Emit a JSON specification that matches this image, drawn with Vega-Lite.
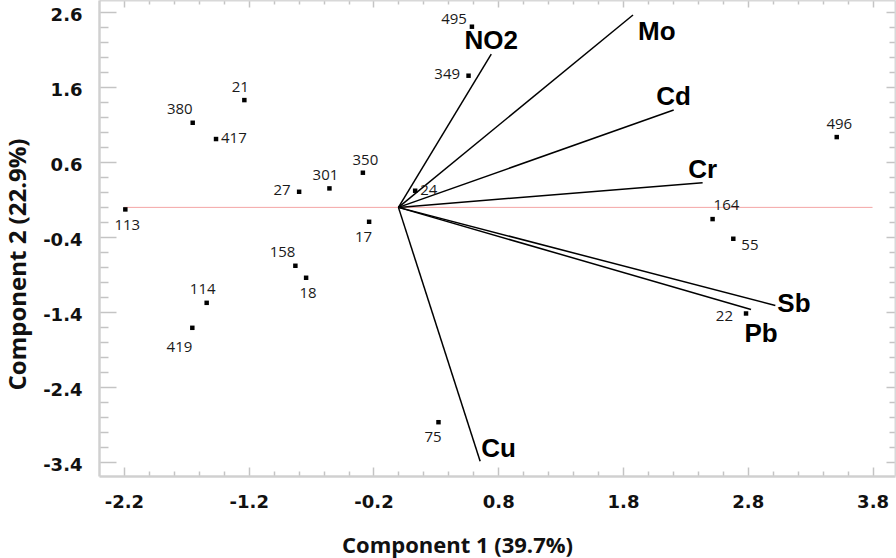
{
  "$schema": "https://vega.github.io/schema/vega-lite/v6.json",
  "width": 796,
  "height": 476,
  "autosize": {"type": "none"},
  "padding": {"left": 99, "top": 0, "right": 1, "bottom": 82},
  "background": "white",
  "config": {"view": {"stroke": null}},
  "datasets": {
    "scores": [
      {"id": "21", "pc1": -1.235, "pc2": 1.43},
      {"id": "380", "pc1": -1.649, "pc2": 1.128},
      {"id": "417", "pc1": -1.462, "pc2": 0.911},
      {"id": "27", "pc1": -0.796, "pc2": 0.208},
      {"id": "495", "pc1": 0.589, "pc2": 2.408},
      {"id": "349", "pc1": 0.562, "pc2": 1.755},
      {"id": "350", "pc1": -0.285, "pc2": 0.462},
      {"id": "301", "pc1": -0.553, "pc2": 0.253},
      {"id": "24", "pc1": 0.134, "pc2": 0.222},
      {"id": "496", "pc1": 3.513, "pc2": 0.937},
      {"id": "113", "pc1": -2.189, "pc2": -0.027},
      {"id": "158", "pc1": -0.826, "pc2": -0.778},
      {"id": "114", "pc1": -1.537, "pc2": -1.272},
      {"id": "419", "pc1": -1.652, "pc2": -1.605},
      {"id": "17", "pc1": -0.235, "pc2": -0.192},
      {"id": "18", "pc1": -0.74, "pc2": -0.938},
      {"id": "164", "pc1": 2.518, "pc2": -0.156},
      {"id": "55", "pc1": 2.684, "pc2": -0.418},
      {"id": "22", "pc1": 2.786, "pc2": -1.414},
      {"id": "75", "pc1": 0.321, "pc2": -2.863}
    ],
    "loadings": [
      {"var": "NO2", "pc1": 0.744, "pc2": 2.044},
      {"var": "Mo", "pc1": 1.88, "pc2": 2.564},
      {"var": "Cd", "pc1": 2.206, "pc2": 1.297},
      {"var": "Cr", "pc1": 2.438, "pc2": 0.328},
      {"var": "Sb", "pc1": 3.021, "pc2": -1.307},
      {"var": "Pb", "pc1": 2.826, "pc2": -1.36},
      {"var": "Cu", "pc1": 0.655, "pc2": -3.383}
    ],
    "baseline": [
      {"from": -2.2, "to": 3.8}
    ]
  },
  "resolve": {"axis": {"x": "independent", "y": "independent"}},
  "layer": [
    {
      "data": {"name": "baseline"},
      "mark": {"type": "rule", "color": "#f4a6a6", "strokeWidth": 1},
      "encoding": {
        "x": {"field": "from", "type": "quantitative",
          "scale": {"domain": [-2.4, 3.98], "nice": false, "zero": false},
          "axis": {
            "orient": "bottom",
            "values": [-2.2, -2, -1.8, -1.6, -1.4, -1.2, -1, -0.8, -0.6, -0.4, -0.2, 0, 0.2, 0.4, 0.6, 0.8, 1, 1.2, 1.4, 1.6, 1.8, 2, 2.2, 2.4, 2.6, 2.8, 3, 3.2, 3.4, 3.6, 3.8],
            "labelExpr": "indexof([-2.2, -1.2, -0.2, 0.8, 1.8, 2.8, 3.8], datum.value) >= 0 ? toString(datum.value) : ''",
            "tickSize": {"condition": {"test": "indexof([-2.2, -1.2, -0.2, 0.8, 1.8, 2.8, 3.8], datum.value) >= 0", "value": -9}, "value": -5},
            "tickWidth": 1.5,
            "tickColor": "#c4c4c4",
            "labelPadding": 26,
            "labelFont": "DejaVu Sans",
            "labelFontWeight": "bold",
            "labelFontSize": 18,
            "labelColor": "#111111",
            "labelFlush": false,
            "labelOverlap": false,
            "labelBound": false,
            "domainColor": "#d0d0d0",
            "domainWidth": 2.5,
            "grid": false,
            "title": "Component 1 (39.7%)",
            "titleFont": "Open Sans",
            "titleFontWeight": "bold",
            "titleFontSize": 22,
            "titleColor": "#111111",
            "titleX": 358,
            "titleY": 76,
            "titleAlign": "center",
            "titleBaseline": "alphabetic"
          }
        },
        "x2": {"field": "to"},
        "y": {"datum": 0, "type": "quantitative",
          "scale": {"domain": [-3.58, 2.764], "nice": false, "zero": false},
          "axis": {
            "orient": "left",
            "values": [-3.4, -3.2, -3, -2.8, -2.6, -2.4, -2.2, -2, -1.8, -1.6, -1.4, -1.2, -1, -0.8, -0.6, -0.4, -0.2, 0, 0.2, 0.4, 0.6, 0.8, 1, 1.2, 1.4, 1.6, 1.8, 2, 2.2, 2.4, 2.6],
            "labelExpr": "indexof([-3.4, -2.4, -1.4, -0.4, 0.6, 1.6, 2.6], datum.value) >= 0 ? toString(datum.value) : ''",
            "tickSize": {"condition": {"test": "indexof([-3.4, -2.4, -1.4, -0.4, 0.6, 1.6, 2.6], datum.value) >= 0", "value": -17}, "value": -9},
            "tickWidth": 1.5,
            "tickColor": "#c4c4c4",
            "labelPadding": 34,
            "labelOffset": 3.5,
            "labelFont": "DejaVu Sans",
            "labelFontWeight": "bold",
            "labelFontSize": 18,
            "labelColor": "#111111",
            "labelFlush": false,
            "labelOverlap": false,
            "labelBound": false,
            "domainColor": "#d0d0d0",
            "domainWidth": 2.5,
            "grid": false,
            "title": "Component 2 (22.9%)",
            "titleFont": "Open Sans",
            "titleFontWeight": "bold",
            "titleFontSize": 24,
            "titleColor": "#111111",
            "titleX": -74,
            "titleY": 264,
            "titleAngle": -90,
            "titleAlign": "center",
            "titleBaseline": "alphabetic"
          }
        }
      }
    },
    {
      "data": {"name": "loadings"},
      "mark": {"type": "rule", "color": "#000000", "strokeWidth": 1.5},
      "encoding": {
        "x": {"field": "pc1", "type": "quantitative", "scale": {"domain": [-2.4, 3.98], "nice": false, "zero": false}, "axis": null},
        "y": {"field": "pc2", "type": "quantitative", "scale": {"domain": [-3.58, 2.764], "nice": false, "zero": false}, "axis": null},
        "x2": {"datum": 0},
        "y2": {"datum": 0}
      }
    },
    {
      "data": {"name": "scores"},
      "mark": {"type": "square", "color": "#000000", "filled": true, "size": 20, "opacity": 1},
      "encoding": {
        "x": {"field": "pc1", "type": "quantitative",
          "scale": {"domain": [-2.4, 3.98], "nice": false, "zero": false},
          "axis": {
            "orient": "top",
            "values": [-2.2, -2, -1.8, -1.6, -1.4, -1.2, -1, -0.8, -0.6, -0.4, -0.2, 0, 0.2, 0.4, 0.6, 0.8, 1, 1.2, 1.4, 1.6, 1.8, 2, 2.2, 2.4, 2.6, 2.8, 3, 3.2, 3.4, 3.6, 3.8],
            "labels": false,
            "tickSize": {"condition": {"test": "indexof([-2.2, -1.2, -0.2, 0.8, 1.8, 2.8, 3.8], datum.value) >= 0", "value": -7}, "value": -4},
            "tickWidth": 1.5,
            "tickColor": "#c4c4c4",
            "domainColor": "#d8d8d8",
            "domainWidth": 2,
            "grid": false,
            "title": null
          }
        },
        "y": {"field": "pc2", "type": "quantitative",
          "scale": {"domain": [-3.58, 2.764], "nice": false, "zero": false},
          "axis": {
            "orient": "right",
            "values": [-3.4, -3.2, -3, -2.8, -2.6, -2.4, -2.2, -2, -1.8, -1.6, -1.4, -1.2, -1, -0.8, -0.6, -0.4, -0.2, 0, 0.2, 0.4, 0.6, 0.8, 1, 1.2, 1.4, 1.6, 1.8, 2, 2.2, 2.4, 2.6],
            "labels": false,
            "tickSize": {"condition": {"test": "indexof([-3.4, -2.4, -1.4, -0.4, 0.6, 1.6, 2.6], datum.value) >= 0", "value": -9}, "value": -6},
            "tickWidth": 1.5,
            "tickColor": "#c4c4c4",
            "domainColor": "#d8d8d8",
            "domainWidth": 2,
            "grid": false,
            "title": null
          }
        }
      }
    },
    {
      "data": {"name": "scores"},
      "transform": [{"filter": {"field": "id", "oneOf": ["21", "114", "301"]}}],
      "mark": {"type": "text", "font": "Open Sans", "fontSize": 15, "color": "#1a1a1a", "align": "center", "baseline": "middle", "dx": -4, "dy": -13.5},
      "encoding": {
        "x": {"field": "pc1", "type": "quantitative", "scale": {"domain": [-2.4, 3.98], "nice": false, "zero": false}, "axis": null},
        "y": {"field": "pc2", "type": "quantitative", "scale": {"domain": [-3.58, 2.764], "nice": false, "zero": false}, "axis": null},
        "text": {"field": "id"}
      }
    },
    {
      "data": {"name": "scores"},
      "transform": [{"filter": {"field": "id", "oneOf": ["350", "496"]}}],
      "mark": {"type": "text", "font": "Open Sans", "fontSize": 15, "color": "#1a1a1a", "align": "center", "baseline": "middle", "dx": 2.5, "dy": -13},
      "encoding": {
        "x": {"field": "pc1", "type": "quantitative", "scale": {"domain": [-2.4, 3.98], "nice": false, "zero": false}, "axis": null},
        "y": {"field": "pc2", "type": "quantitative", "scale": {"domain": [-3.58, 2.764], "nice": false, "zero": false}, "axis": null},
        "text": {"field": "id"}
      }
    },
    {
      "data": {"name": "scores"},
      "transform": [{"filter": {"field": "id", "oneOf": ["17", "75"]}}],
      "mark": {"type": "text", "font": "Open Sans", "fontSize": 15, "color": "#1a1a1a", "align": "center", "baseline": "middle", "dx": -5.5, "dy": 15},
      "encoding": {
        "x": {"field": "pc1", "type": "quantitative", "scale": {"domain": [-2.4, 3.98], "nice": false, "zero": false}, "axis": null},
        "y": {"field": "pc2", "type": "quantitative", "scale": {"domain": [-3.58, 2.764], "nice": false, "zero": false}, "axis": null},
        "text": {"field": "id"}
      }
    },
    {
      "data": {"name": "scores"},
      "transform": [{"filter": {"field": "id", "oneOf": ["113", "18"]}}],
      "mark": {"type": "text", "font": "Open Sans", "fontSize": 15, "color": "#1a1a1a", "align": "center", "baseline": "middle", "dx": 2, "dy": 15.5},
      "encoding": {
        "x": {"field": "pc1", "type": "quantitative", "scale": {"domain": [-2.4, 3.98], "nice": false, "zero": false}, "axis": null},
        "y": {"field": "pc2", "type": "quantitative", "scale": {"domain": [-3.58, 2.764], "nice": false, "zero": false}, "axis": null},
        "text": {"field": "id"}
      }
    },
    {
      "data": {"name": "scores"},
      "transform": [{"filter": {"field": "id", "oneOf": ["380", "158"]}}],
      "mark": {"type": "text", "font": "Open Sans", "fontSize": 15, "color": "#1a1a1a", "align": "right", "baseline": "middle", "dx": 0, "dy": -13.5},
      "encoding": {
        "x": {"field": "pc1", "type": "quantitative", "scale": {"domain": [-2.4, 3.98], "nice": false, "zero": false}, "axis": null},
        "y": {"field": "pc2", "type": "quantitative", "scale": {"domain": [-3.58, 2.764], "nice": false, "zero": false}, "axis": null},
        "text": {"field": "id"}
      }
    },
    {
      "data": {"name": "scores"},
      "transform": [{"filter": {"field": "id", "oneOf": ["419"]}}],
      "mark": {"type": "text", "font": "Open Sans", "fontSize": 15, "color": "#1a1a1a", "align": "right", "baseline": "middle", "dx": 0, "dy": 19.5},
      "encoding": {
        "x": {"field": "pc1", "type": "quantitative", "scale": {"domain": [-2.4, 3.98], "nice": false, "zero": false}, "axis": null},
        "y": {"field": "pc2", "type": "quantitative", "scale": {"domain": [-3.58, 2.764], "nice": false, "zero": false}, "axis": null},
        "text": {"field": "id"}
      }
    },
    {
      "data": {"name": "scores"},
      "transform": [{"filter": {"field": "id", "oneOf": ["417", "24"]}}],
      "mark": {"type": "text", "font": "Open Sans", "fontSize": 15, "color": "#1a1a1a", "align": "left", "baseline": "middle", "dx": 5, "dy": -1},
      "encoding": {
        "x": {"field": "pc1", "type": "quantitative", "scale": {"domain": [-2.4, 3.98], "nice": false, "zero": false}, "axis": null},
        "y": {"field": "pc2", "type": "quantitative", "scale": {"domain": [-3.58, 2.764], "nice": false, "zero": false}, "axis": null},
        "text": {"field": "id"}
      }
    },
    {
      "data": {"name": "scores"},
      "transform": [{"filter": {"field": "id", "oneOf": ["55"]}}],
      "mark": {"type": "text", "font": "Open Sans", "fontSize": 15, "color": "#1a1a1a", "align": "left", "baseline": "middle", "dx": 8, "dy": 6},
      "encoding": {
        "x": {"field": "pc1", "type": "quantitative", "scale": {"domain": [-2.4, 3.98], "nice": false, "zero": false}, "axis": null},
        "y": {"field": "pc2", "type": "quantitative", "scale": {"domain": [-3.58, 2.764], "nice": false, "zero": false}, "axis": null},
        "text": {"field": "id"}
      }
    },
    {
      "data": {"name": "scores"},
      "transform": [{"filter": {"field": "id", "oneOf": ["164"]}}],
      "mark": {"type": "text", "font": "Open Sans", "fontSize": 15, "color": "#1a1a1a", "align": "left", "baseline": "middle", "dx": 1, "dy": -14},
      "encoding": {
        "x": {"field": "pc1", "type": "quantitative", "scale": {"domain": [-2.4, 3.98], "nice": false, "zero": false}, "axis": null},
        "y": {"field": "pc2", "type": "quantitative", "scale": {"domain": [-3.58, 2.764], "nice": false, "zero": false}, "axis": null},
        "text": {"field": "id"}
      }
    },
    {
      "data": {"name": "scores"},
      "transform": [{"filter": {"field": "id", "oneOf": ["27", "349"]}}],
      "mark": {"type": "text", "font": "Open Sans", "fontSize": 15, "color": "#1a1a1a", "align": "right", "baseline": "middle", "dx": -8.5, "dy": -2},
      "encoding": {
        "x": {"field": "pc1", "type": "quantitative", "scale": {"domain": [-2.4, 3.98], "nice": false, "zero": false}, "axis": null},
        "y": {"field": "pc2", "type": "quantitative", "scale": {"domain": [-3.58, 2.764], "nice": false, "zero": false}, "axis": null},
        "text": {"field": "id"}
      }
    },
    {
      "data": {"name": "scores"},
      "transform": [{"filter": {"field": "id", "oneOf": ["495"]}}],
      "mark": {"type": "text", "font": "Open Sans", "fontSize": 15, "color": "#1a1a1a", "align": "right", "baseline": "middle", "dx": -5, "dy": -7.5},
      "encoding": {
        "x": {"field": "pc1", "type": "quantitative", "scale": {"domain": [-2.4, 3.98], "nice": false, "zero": false}, "axis": null},
        "y": {"field": "pc2", "type": "quantitative", "scale": {"domain": [-3.58, 2.764], "nice": false, "zero": false}, "axis": null},
        "text": {"field": "id"}
      }
    },
    {
      "data": {"name": "scores"},
      "transform": [{"filter": {"field": "id", "oneOf": ["22"]}}],
      "mark": {"type": "text", "font": "Open Sans", "fontSize": 15, "color": "#1a1a1a", "align": "right", "baseline": "middle", "dx": -13, "dy": 3},
      "encoding": {
        "x": {"field": "pc1", "type": "quantitative", "scale": {"domain": [-2.4, 3.98], "nice": false, "zero": false}, "axis": null},
        "y": {"field": "pc2", "type": "quantitative", "scale": {"domain": [-3.58, 2.764], "nice": false, "zero": false}, "axis": null},
        "text": {"field": "id"}
      }
    },
    {
      "data": {"name": "loadings"},
      "transform": [{"filter": {"field": "var", "oneOf": ["NO2", "Cd", "Cr"]}}],
      "mark": {"type": "text", "font": "Liberation Sans", "fontWeight": "bold", "fontSize": 26, "color": "#000000", "align": "center", "baseline": "alphabetic", "dx": 0, "dy": -5},
      "encoding": {
        "x": {"field": "pc1", "type": "quantitative", "scale": {"domain": [-2.4, 3.98], "nice": false, "zero": false}, "axis": null},
        "y": {"field": "pc2", "type": "quantitative", "scale": {"domain": [-3.58, 2.764], "nice": false, "zero": false}, "axis": null},
        "text": {"field": "var"}
      }
    },
    {
      "data": {"name": "loadings"},
      "transform": [{"filter": {"field": "var", "oneOf": ["Mo"]}}],
      "mark": {"type": "text", "font": "Liberation Sans", "fontWeight": "bold", "fontSize": 26, "color": "#000000", "align": "left", "baseline": "alphabetic", "dx": 5, "dy": 25},
      "encoding": {
        "x": {"field": "pc1", "type": "quantitative", "scale": {"domain": [-2.4, 3.98], "nice": false, "zero": false}, "axis": null},
        "y": {"field": "pc2", "type": "quantitative", "scale": {"domain": [-3.58, 2.764], "nice": false, "zero": false}, "axis": null},
        "text": {"field": "var"}
      }
    },
    {
      "data": {"name": "loadings"},
      "transform": [{"filter": {"field": "var", "oneOf": ["Sb"]}}],
      "mark": {"type": "text", "font": "Liberation Sans", "fontWeight": "bold", "fontSize": 26, "color": "#000000", "align": "left", "baseline": "alphabetic", "dx": 2, "dy": 7},
      "encoding": {
        "x": {"field": "pc1", "type": "quantitative", "scale": {"domain": [-2.4, 3.98], "nice": false, "zero": false}, "axis": null},
        "y": {"field": "pc2", "type": "quantitative", "scale": {"domain": [-3.58, 2.764], "nice": false, "zero": false}, "axis": null},
        "text": {"field": "var"}
      }
    },
    {
      "data": {"name": "loadings"},
      "transform": [{"filter": {"field": "var", "oneOf": ["Pb"]}}],
      "mark": {"type": "text", "font": "Liberation Sans", "fontWeight": "bold", "fontSize": 26, "color": "#000000", "align": "center", "baseline": "alphabetic", "dx": 10, "dy": 33},
      "encoding": {
        "x": {"field": "pc1", "type": "quantitative", "scale": {"domain": [-2.4, 3.98], "nice": false, "zero": false}, "axis": null},
        "y": {"field": "pc2", "type": "quantitative", "scale": {"domain": [-3.58, 2.764], "nice": false, "zero": false}, "axis": null},
        "text": {"field": "var"}
      }
    },
    {
      "data": {"name": "loadings"},
      "transform": [{"filter": {"field": "var", "oneOf": ["Cu"]}}],
      "mark": {"type": "text", "font": "Liberation Sans", "fontWeight": "bold", "fontSize": 26, "color": "#000000", "align": "left", "baseline": "alphabetic", "dx": 1, "dy": -4},
      "encoding": {
        "x": {"field": "pc1", "type": "quantitative", "scale": {"domain": [-2.4, 3.98], "nice": false, "zero": false}, "axis": null},
        "y": {"field": "pc2", "type": "quantitative", "scale": {"domain": [-3.58, 2.764], "nice": false, "zero": false}, "axis": null},
        "text": {"field": "var"}
      }
    }
  ]
}
